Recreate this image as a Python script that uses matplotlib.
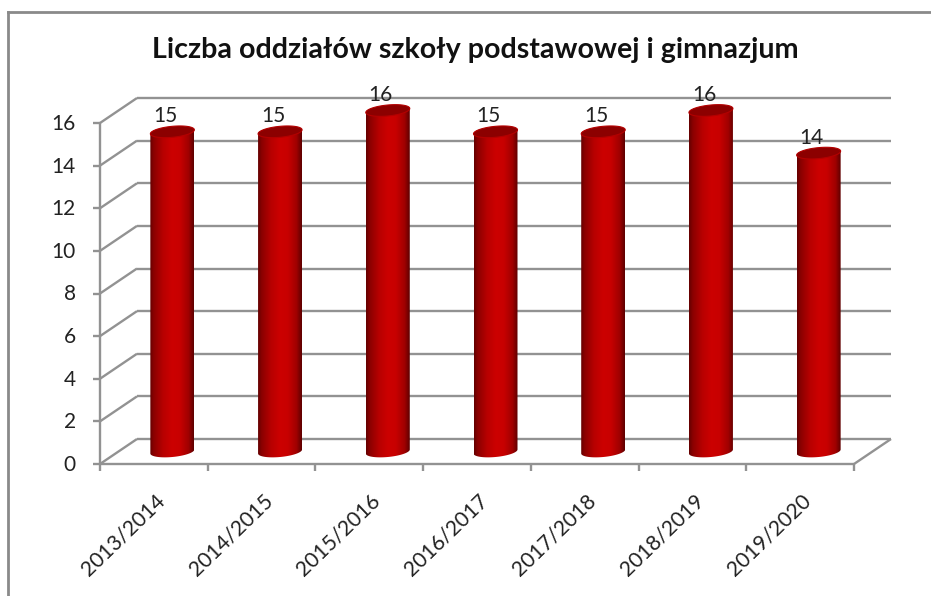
import numpy as np
import matplotlib
matplotlib.use('Agg')
import matplotlib.pyplot as plt
from matplotlib.path import Path
from matplotlib.patches import Polygon
from matplotlib.colors import LinearSegmentedColormap

plt.rcParams['font.family'] = ['Lato', 'DejaVu Sans']

title = 'Liczba oddziałów szkoły podstawowej i gimnazjum'
years = ['2013/2014', '2014/2015', '2015/2016', '2016/2017',
         '2017/2018', '2018/2019', '2019/2020']
values = [15, 15, 16, 15, 15, 16, 14]
y_ticks = [0, 2, 4, 6, 8, 10, 12, 14, 16]

W, H = 931, 596
grey = '#929292'
text_col = '#222222'
n = len(years)

# data units per pixel, front plane of the fake 3d box is 754 x 341 px
px_x = n / 754
px_y = 16 / 341
dx = 37 * px_x
dy = 25 * px_y

fig = plt.figure(figsize=(W / 100, H / 100), dpi=100)
# axes fills the figure, limits chosen so the front plane lands in place
ax = fig.add_axes([0, 0, 1, 1])
ax.axis('off')
xlim = (-100 * px_x, n + 77 * px_x)
ylim = (-132 * px_y, 16 + 123 * px_y)

line = dict(color=grey, lw=1.7, solid_capstyle='butt', zorder=1)

# back wall grid and side wall diagonals
for t in y_ticks:
    ax.plot([dx, n + dx], [t + dy, t + dy], **line)
    ax.plot([0, dx], [t, t + dy], **line)
ax.plot([n, n + dx], [0, dy], **line)

# front axes and ticks
ax.plot([0, 0], [0, 16], **line)
ax.plot([0, n], [0, 0], **line)
for t in y_ticks:
    ax.plot([-7 * px_x, 0], [t, t], **line)
    ax.text(-24 * px_x, t - 1 * px_y, str(t), ha='right', va='center', fontsize=15,
            color=text_col)
for i in range(n + 1):
    ax.plot([i, i], [0, -7 * px_y], **line)

body_cmap = LinearSegmentedColormap.from_list(
    'body', [(0, '#640000'), (0.08, '#8a0000'), (0.3, '#b80000'), (0.5, '#cc0000'),
             (0.68, '#c80000'), (0.88, '#a00000'), (1, '#5e0000')])
grad = np.linspace(0, 1, 128).reshape(1, -1)
half_w = 22 * px_x
half_h = 5.5 * px_y
tilt = 2 * px_y


def rim(xc, yc, t):
    # tilted ellipse, left end sits lower than the right end
    return np.column_stack([xc + half_w * np.cos(t),
                            yc + half_h * np.sin(t) + tilt * np.cos(t)])


for i, v in enumerate(values):
    xc = i + 0.5 + dx / 2
    y0 = dy / 2
    y1 = v + dy / 2
    im = ax.imshow(grad, cmap=body_cmap, aspect='auto', zorder=3,
                   extent=[xc - half_w, xc + half_w, y0 - half_h - tilt, y1 + tilt])
    lower = rim(xc, y0, np.linspace(np.pi, 2 * np.pi, 60))
    upper = rim(xc, y1, np.linspace(0, np.pi, 60))
    outline = np.vstack([lower, upper, lower[:1]])
    im.set_clip_path(Path(outline), transform=ax.transData)
    ax.add_patch(Polygon(rim(xc, y1, np.linspace(0, 2 * np.pi, 120)), closed=True,
                         fc='#8c0000', ec='#b40000', lw=0.8, zorder=4))
    ax.text(xc - 7 * px_x, y1 + half_h, str(v), ha='center', va='bottom',
            fontsize=15, color=text_col, zorder=5)

ax.set_xlim(*xlim)
ax.set_ylim(*ylim)

# rotated year labels
for i, lab in enumerate(years):
    ax.text(i + 0.5 + 1 * px_x, -26 * px_y, lab, rotation=44, ha='right', va='top',
            rotation_mode='anchor', fontsize=15.2, color=text_col)

# chart frame, cut by the picture edge on the right and bottom
ax.plot([-92.5 * px_x, -92.5 * px_x], [ylim[0], 16 + 111 * px_y], color='#8a8a8a', lw=2)
ax.plot([-92.5 * px_x, xlim[1]], [16 + 111 * px_y, 16 + 111 * px_y], color='#8a8a8a', lw=2)

fig.text(475.5 / W, 1 - 50 / H, title, ha='center', va='center', fontsize=20.6,
         fontweight='bold', color='#111111')

fig.savefig('out.png', dpi=100)
